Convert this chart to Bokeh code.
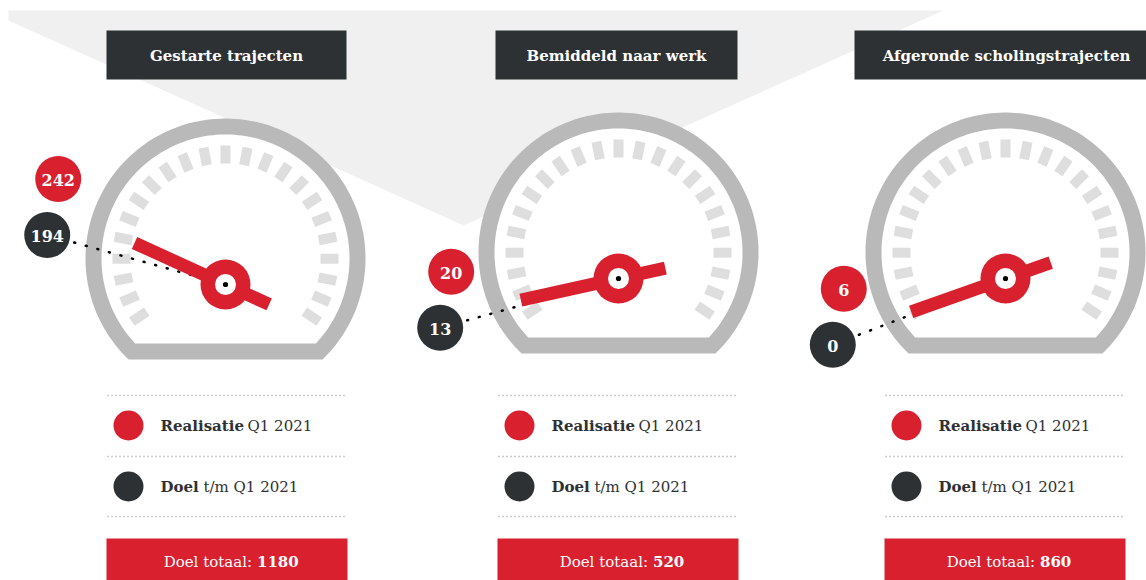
import numpy as np
from bokeh.plotting import figure
from bokeh.models import Range1d
from bokeh.core.properties import value
from bokeh.embed import file_html
from bokeh.resources import INLINE

# ---------------- data ----------------
titles = ["Gestarte trajecten", "Bemiddeld naar werk", "Afgeronde scholingstrajecten"]
realisatie = [242, 20, 6]          # Realisatie Q1 2021
doel_tm = [194, 13, 0]             # Doel t/m Q1 2021
doel_totaal = [1180, 520, 860]     # Doel totaal
legend_bold = ["Realisatie", "Doel"]
legend_rest = ["Q1 2021", "t/m Q1 2021"]
totaal_label = "Doel totaal:"

# ---------------- style ----------------
RED = "#d8202f"
DARK = "#2e3133"
RING = "#b9b9b9"
TICK = "#dedede"
BG = "#eff0ef"
FONT = value("DejaVu Serif")

W, H = 1146, 580
DIAL_START, DIAL_SWEEP = 201.0, 222.0      # dial: 0 .. doel totaal

hub_x = [225, 618, 1005]
hub_y = [284, 278, 278]
panel_left = [106, 497, 884]
title_left = [106, 495, 854]
title_right = [346, 737, 1158]
legend_rest_dx = [87, 43]

p = figure(width=W, height=H, x_range=Range1d(0, W), y_range=Range1d(H, 0),
           output_backend="svg", toolbar_location=None, min_border=0)
p.axis.visible = False
p.grid.visible = False
p.outline_line_color = None
p.background_fill_color = "white"
p.border_fill_color = "white"

# background shape
p.patch([8, 943, 463, 8], [10, 10, 225, 20], fill_color=BG, line_color=None)


def seg(cx, cy, r, chord):
    t0 = np.degrees(np.arcsin(-chord / r))
    ts = np.radians(np.linspace(180 - t0, t0, 160))
    return list(cx + r * np.cos(ts)), list(cy - r * np.sin(ts))


def val_angle(v, tot):
    return np.radians(DIAL_START - DIAL_SWEEP * v / tot)


for i in range(3):
    hx, hy = hub_x[i], hub_y[i]
    cx, cy = hx, hy - 26
    L = panel_left[i]

    # title box
    p.quad(left=title_left[i], right=title_right[i], top=30, bottom=79,
           fill_color=DARK, line_color=None)
    p.text(x=[(title_left[i] + title_right[i]) / 2], y=[55], text=[titles[i]],
           text_color="white", text_font=FONT, text_font_style="bold",
           text_font_size="15px", text_align="center", text_baseline="middle")

    # gauge frame
    ox, oy = seg(cx, cy, 140, 101)
    p.patch(ox, oy, fill_color=RING, line_color=None)
    ix, iy = seg(cx, cy, 124, 85)
    p.patch(ix, iy, fill_color="white", line_color=None)

    # dial ticks
    txs, tys = [], []
    for k in range(23):
        t = np.radians(214 - k * 248 / 22)
        u = np.array([np.cos(t), -np.sin(t)])
        n = np.array([np.sin(t), np.cos(t)]) * 5
        c = np.array([cx, cy])
        pts = [c + 95 * u + n, c + 113 * u + n, c + 113 * u - n, c + 95 * u - n]
        txs.append([q[0] for q in pts])
        tys.append([q[1] for q in pts])
    p.patches(txs, tys, fill_color=TICK, line_color=None)

    # goal (doel t/m) : dotted line + dark bubble
    tg = val_angle(doel_tm[i], doel_totaal[i])
    bx, by = hx + 185 * np.cos(tg), hy - 185 * np.sin(tg)
    p.line([hx, bx], [hy, by], line_color="black", line_width=2.5,
           line_dash="1 11", line_cap="round")

    # needle (realisatie)
    tr = val_angle(realisatie[i], doel_totaal[i])
    u = np.array([np.cos(tr), -np.sin(tr)])
    n = np.array([np.sin(tr), np.cos(tr)]) * 6.5
    h = np.array([hx, hy])
    pts = [h - 48 * u + n, h + 100 * u + n, h + 100 * u - n, h - 48 * u - n]
    p.patch([q[0] for q in pts], [q[1] for q in pts], fill_color=RED, line_color=None)
    p.circle([hx], [hy], radius=25, fill_color=RED, line_color=None)
    p.circle([hx], [hy], radius=10.5, fill_color="white", line_color=None)
    p.circle([hx], [hy], radius=2.6, fill_color="black", line_color=None)

    # value bubbles
    rx, ry = bx + 11, by - 56
    p.circle([bx, rx], [by, ry], radius=23, fill_color=[DARK, RED], line_color=None)
    p.text(x=[bx, rx], y=[by + 1, ry + 1], text=[str(doel_tm[i]), str(realisatie[i])],
           text_color="white", text_font=FONT, text_font_style="bold",
           text_font_size="16px", text_align="center", text_baseline="middle")

    # legend
    for yy in (395, 456, 516):
        p.line([L + 1, L + 240], [yy, yy], line_color="#9a9a9a", line_width=1.4,
               line_dash="1 3")
    p.circle([L + 22, L + 22], [425, 486], radius=15, fill_color=[RED, DARK],
             line_color=None)
    for j, yy in enumerate((425, 486)):
        p.text(x=[L + 54], y=[yy], text=[legend_bold[j]], text_color=DARK,
               text_font=FONT, text_font_style="bold", text_font_size="15px",
               text_align="left", text_baseline="middle")
        p.text(x=[L + 54 + legend_rest_dx[j]], y=[yy], text=[legend_rest[j]],
               text_color=DARK, text_font=FONT, text_font_size="15px",
               text_align="left", text_baseline="middle")

    # total box
    p.quad(left=L, right=L + 241, top=538, bottom=590, fill_color=RED, line_color=None)
    num = str(doel_totaal[i])
    s = L + 120 + (97 - 10 * len(num)) / 2
    p.text(x=[s - 3], y=[561], text=[totaal_label], text_color="white",
           text_font=FONT, text_font_size="15px", text_align="right",
           text_baseline="middle")
    p.text(x=[s + 2], y=[561], text=[num], text_color="white",
           text_font=FONT, text_font_style="bold", text_font_size="15px",
           text_align="left", text_baseline="middle")

open("out.html", "w").write(file_html(p, INLINE))
